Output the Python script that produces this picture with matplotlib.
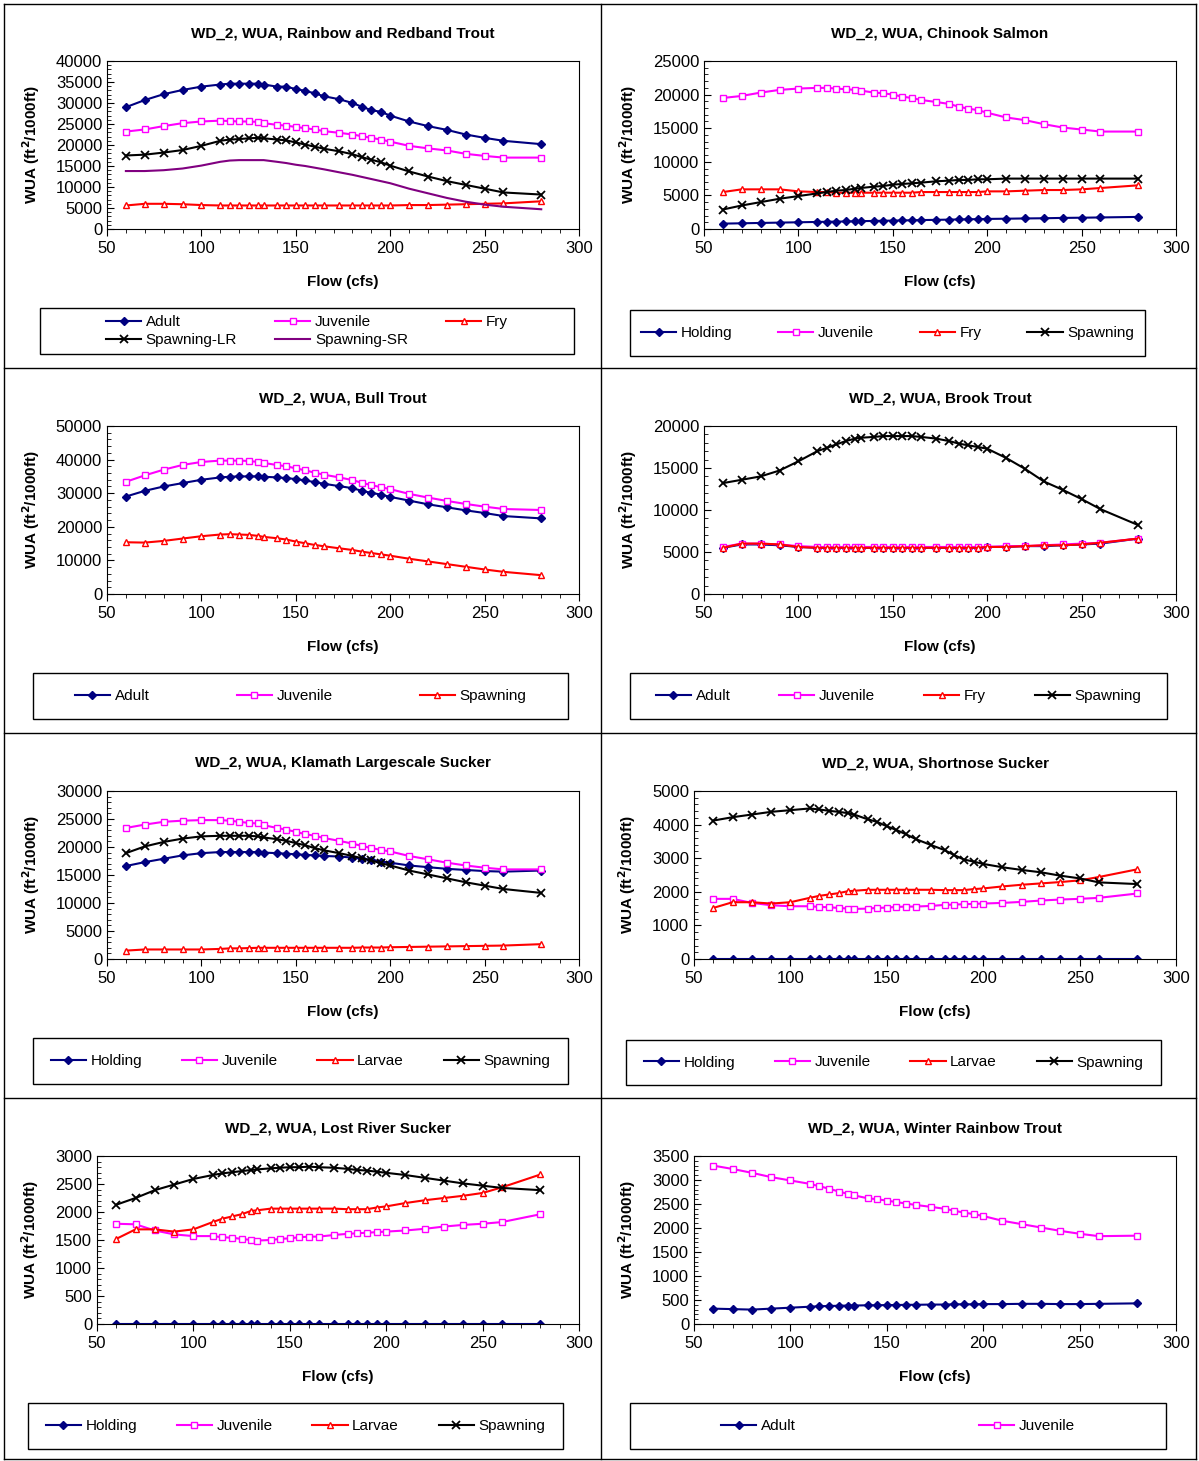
import matplotlib
matplotlib.use("Agg")
import matplotlib.pyplot as plt
from matplotlib.lines import Line2D
from matplotlib.patches import Rectangle

plt.rcParams['font.family'] = ['Liberation Sans', 'DejaVu Sans']

flow = [60, 70, 80, 90, 100, 110, 115, 120, 125, 130, 133, 140, 145, 150, 155,
        160, 165, 173, 180, 185, 190, 195, 200, 210, 220, 230, 240, 250, 260, 280]

# Rainbow and Redband Trout
rb_adult = [29000, 30700, 32100, 33100, 33900, 34400, 34600, 34600, 34600, 34600, 34400, 33900, 33900, 33300, 32900,
            32300, 31600, 30900, 30000, 29100, 28300, 27900, 27000, 25600, 24500, 23600, 22500, 21700, 21000, 20200]
rb_juv = [23200, 23700, 24500, 25200, 25600, 25800, 25700, 25600, 25600, 25500, 25200, 24800, 24600, 24300, 24000,
          23700, 23300, 22900, 22500, 22100, 21700, 21300, 20800, 19800, 19200, 18700, 17900, 17400, 17000, 17000]
rb_fry = [5600, 6000, 6000, 5900, 5700, 5600, 5600, 5600, 5600, 5600, 5600, 5600, 5600, 5600, 5600,
          5600, 5600, 5600, 5600, 5600, 5600, 5600, 5600, 5700, 5700, 5800, 5900, 6000, 6100, 6600]
rb_spawn_lr = [17500, 17700, 18200, 18800, 19800, 21000, 21300, 21400, 21600, 21700, 21600, 21300, 21100, 20600, 20100,
               19600, 19100, 18500, 17800, 17100, 16500, 15900, 15100, 13700, 12500, 11400, 10500, 9600, 8700, 8200]
rb_spawn_sr = [13800, 13800, 14000, 14400, 15100, 16000, 16300, 16400, 16400, 16400, 16400, 16000, 15700, 15300, 15000,
               14600, 14200, 13500, 12900, 12400, 11900, 11400, 10900, 9600, 8500, 7400, 6500, 5800, 5300, 4700]

# Chinook Salmon
ch_hold = [800, 850, 900, 950, 1000, 1050, 1080, 1100, 1120, 1150, 1170, 1200, 1230, 1250, 1280,
           1300, 1330, 1360, 1400, 1420, 1450, 1470, 1500, 1530, 1570, 1600, 1650, 1680, 1720, 1800]
ch_juv = [19500, 19800, 20300, 20700, 20900, 21000, 21000, 20900, 20800, 20700, 20600, 20300, 20200, 20000, 19700,
          19500, 19200, 18900, 18600, 18200, 17900, 17700, 17300, 16600, 16200, 15600, 15100, 14800, 14500, 14500]
ch_fry = [5500, 5900, 5900, 5900, 5600, 5500, 5500, 5400, 5400, 5400, 5400, 5400, 5400, 5400, 5400,
          5400, 5500, 5500, 5500, 5500, 5500, 5500, 5600, 5600, 5700, 5800, 5800, 5900, 6100, 6500]
ch_spawn = [2900, 3500, 4000, 4500, 4900, 5300, 5500, 5700, 5800, 6000, 6100, 6300, 6400, 6600, 6700,
            6800, 6900, 7100, 7200, 7300, 7300, 7400, 7400, 7500, 7500, 7500, 7500, 7500, 7500, 7500]

# Bull Trout
bt_adult = [29000, 30700, 32000, 33000, 34000, 34700, 34900, 35000, 35000, 35000, 34900, 34700, 34500, 34200, 33800,
            33300, 32800, 32100, 31500, 30700, 30100, 29600, 28900, 27800, 26700, 25800, 24900, 24100, 23200, 22500]
bt_juv = [33400, 35300, 37000, 38400, 39300, 39700, 39700, 39700, 39600, 39300, 39000, 38400, 38000, 37400, 36800,
          36100, 35500, 34700, 33900, 33100, 32400, 31800, 31200, 29800, 28700, 27700, 26800, 26000, 25300, 25000]
bt_spawn = [15400, 15300, 15800, 16500, 17200, 17700, 17800, 17700, 17600, 17300, 17000, 16600, 16200, 15600, 15100,
            14600, 14200, 13600, 13100, 12600, 12200, 11800, 11400, 10500, 9700, 8900, 8100, 7300, 6600, 5600]

# Brook Trout
bk_adult = [5500, 5900, 5900, 5800, 5600, 5500, 5500, 5500, 5500, 5500, 5500, 5500, 5500, 5500, 5500,
            5500, 5500, 5500, 5500, 5500, 5500, 5500, 5600, 5600, 5700, 5700, 5800, 5900, 6000, 6600]
bk_juv = [5600, 6000, 6000, 5900, 5700, 5600, 5600, 5600, 5600, 5600, 5600, 5600, 5600, 5600, 5600,
          5600, 5600, 5600, 5600, 5600, 5600, 5600, 5600, 5700, 5700, 5800, 5900, 6000, 6100, 6600]
bk_fry = [5500, 6000, 6000, 5900, 5600, 5500, 5500, 5500, 5500, 5500, 5500, 5500, 5500, 5500, 5500,
          5500, 5500, 5500, 5500, 5500, 5500, 5500, 5600, 5600, 5700, 5800, 5800, 5900, 6100, 6600]
bk_spawn = [13200, 13600, 14000, 14700, 15800, 17000, 17400, 17800, 18200, 18500, 18600, 18700, 18800, 18800, 18800,
            18800, 18700, 18500, 18200, 17900, 17700, 17500, 17300, 16200, 14900, 13400, 12400, 11300, 10100, 8200]

# Klamath Largescale Sucker
kl_hold = [16600, 17300, 17900, 18500, 18900, 19100, 19100, 19100, 19100, 19100, 19000, 18900, 18800, 18700, 18600,
           18500, 18400, 18300, 18100, 17900, 17700, 17400, 17200, 16700, 16400, 16100, 15900, 15700, 15600, 15800]
kl_juv = [23400, 24000, 24500, 24700, 24800, 24800, 24700, 24500, 24300, 24200, 23900, 23400, 23100, 22700, 22300,
          22000, 21600, 21100, 20600, 20200, 19800, 19500, 19200, 18400, 17800, 17200, 16700, 16300, 16000, 16000]
kl_larv = [1500, 1700, 1700, 1700, 1700, 1800, 1900, 1900, 1950, 2000, 2000, 2000, 2000, 2000, 2000,
           2000, 2000, 2000, 2000, 2050, 2050, 2050, 2100, 2150, 2200, 2250, 2300, 2350, 2400, 2650]
kl_spawn = [18900, 20100, 20900, 21500, 21900, 22000, 22000, 22000, 22000, 21900, 21700, 21400, 21100, 20700, 20300,
            19800, 19400, 18900, 18400, 18000, 17600, 17100, 16700, 15800, 15100, 14400, 13700, 13100, 12500, 11800]

# Shortnose Sucker
sn_hold = [0] * 30
sn_juv = [1790, 1790, 1670, 1600, 1570, 1570, 1550, 1540, 1520, 1500, 1490, 1500, 1520, 1530, 1550,
          1560, 1560, 1580, 1610, 1620, 1630, 1640, 1650, 1670, 1700, 1740, 1770, 1790, 1820, 1950]
sn_larv = [1520, 1690, 1690, 1650, 1690, 1820, 1880, 1920, 1960, 2020, 2030, 2060, 2060, 2060, 2060,
           2060, 2060, 2060, 2050, 2050, 2050, 2080, 2100, 2160, 2210, 2250, 2290, 2340, 2440, 2670]
sn_spawn = [4120, 4220, 4300, 4380, 4430, 4480, 4450, 4410, 4380, 4340, 4300, 4160, 4080, 3950, 3840,
            3710, 3570, 3390, 3240, 3090, 2960, 2900, 2830, 2730, 2650, 2580, 2480, 2400, 2280, 2230]

# Lost River Sucker
lr_hold = [0] * 30
lr_juv = [1790, 1780, 1670, 1600, 1570, 1570, 1550, 1540, 1520, 1500, 1490, 1500, 1520, 1530, 1550,
          1560, 1560, 1590, 1610, 1620, 1630, 1640, 1650, 1670, 1700, 1740, 1770, 1790, 1820, 1960]
lr_larv = [1520, 1690, 1690, 1650, 1690, 1820, 1880, 1920, 1960, 2020, 2030, 2060, 2060, 2060, 2060,
           2060, 2060, 2060, 2050, 2050, 2050, 2080, 2100, 2160, 2210, 2250, 2290, 2340, 2440, 2670]
lr_spawn = [2130, 2250, 2390, 2490, 2590, 2660, 2690, 2710, 2730, 2750, 2760, 2780, 2790, 2800, 2800,
            2810, 2800, 2790, 2770, 2750, 2740, 2720, 2700, 2660, 2610, 2560, 2510, 2470, 2430, 2390]

# Winter Rainbow Trout
wr_adult = [320, 310, 300, 320, 340, 360, 370, 375, 380, 385, 385, 390, 390, 395, 395,
            400, 400, 405, 405, 410, 410, 410, 415, 415, 420, 420, 415, 415, 420, 430]
wr_juv = [3300, 3230, 3150, 3060, 2990, 2920, 2870, 2820, 2760, 2710, 2680, 2620, 2600, 2570, 2540,
          2510, 2480, 2440, 2400, 2360, 2320, 2290, 2250, 2150, 2080, 2010, 1940, 1880, 1830, 1840]

NAVY = dict(color='#000080', marker='D', ms=4, mfc='#000080', mec='#000080')
MAG = dict(color='#FF00FF', marker='s', ms=5, mfc='white', mec='#FF00FF')
RED = dict(color='#FF0000', marker='^', ms=5, mfc='white', mec='#FF0000')
BLK = dict(color='black', marker='x', ms=6, mec='black', mew=1.3)
PUR = dict(color='#800080', marker='None')

W, H = 1199, 1461
fig = plt.figure(figsize=(W / 100, H / 100), dpi=100)


def px_ax(l, t, r, b):
    return fig.add_axes([l / W, 1 - b / H, (r - l) / W, (b - t) / H])


def panel(l, r, row, title, ymax, ystep, series, leg, ncol, colsp, order=None):
    t = 61 + 365 * row
    b = 229 + 365 * row
    ax = px_ax(l, t, r, b)
    for lab, y, st in series:
        ax.plot(flow, y, label=lab, lw=1.5, **st)
    ax.set_xlim(50, 300)
    ax.set_ylim(0, ymax)
    ax.set_xticks(range(50, 301, 50))
    ax.set_yticks(range(0, ymax + 1, ystep))
    ax.set_xticks(range(50, 301, 10), minor=True)
    ax.set_yticks(range(0, ymax + 1, ystep // 5), minor=True)
    ax.tick_params(labelsize=12, direction='in', length=5)
    ax.tick_params(which='minor', direction='in', length=3)
    ax.tick_params(axis='x', direction='out')
    ax.tick_params(axis='x', which='minor', direction='out')
    ax.set_title(title, fontsize=11, fontweight='bold', pad=17)
    ax.set_xlabel('Flow (cfs)', fontsize=11, fontweight='bold', labelpad=14)
    ax.set_ylabel('WUA (ft$^\\mathbf{2}$/1000ft)', fontsize=11, fontweight='bold', labelpad=10)
    x0, y0, x1, y1 = leg
    fig.add_artist(Rectangle((x0 / W, 1 - y1 / H), (x1 - x0) / W, (y1 - y0) / H,
                             transform=fig.transFigure, fill=False, ec='black', lw=1))
    h, lbl = ax.get_legend_handles_labels()
    if order:
        h = [h[i] for i in order]
        lbl = [lbl[i] for i in order]
    ax.legend(h, lbl, loc='center', bbox_to_anchor=((x0 + x1) / 2 / W, 1 - (y0 + y1) / 2 / H),
              bbox_transform=fig.transFigure, ncol=ncol, fontsize=11, frameon=False,
              handlelength=2.3, handletextpad=0.3, columnspacing=colsp, labelspacing=0.25,
              borderaxespad=0)
    return ax


panel(107, 579, 0, 'WD_2, WUA, Rainbow and Redband Trout', 40000, 5000,
      [('Adult', rb_adult, NAVY), ('Juvenile', rb_juv, MAG), ('Fry', rb_fry, RED),
       ('Spawning-LR', rb_spawn_lr, BLK), ('Spawning-SR', rb_spawn_sr, PUR)],
      (40, 308, 574, 354), 3, 2.5, order=[0, 3, 1, 4, 2])
panel(704, 1176, 0, 'WD_2, WUA, Chinook Salmon', 25000, 5000,
      [('Holding', ch_hold, NAVY), ('Juvenile', ch_juv, MAG), ('Fry', ch_fry, RED),
       ('Spawning', ch_spawn, BLK)],
      (630, 310, 1145, 356), 4, 3.0)
panel(107, 579, 1, 'WD_2, WUA, Bull Trout', 50000, 10000,
      [('Adult', bt_adult, NAVY), ('Juvenile', bt_juv, MAG), ('Spawning', bt_spawn, RED)],
      (33, 673, 568, 719), 3, 5.7)
panel(704, 1176, 1, 'WD_2, WUA, Brook Trout', 20000, 5000,
      [('Adult', bk_adult, NAVY), ('Juvenile', bk_juv, MAG), ('Fry', bk_fry, RED),
       ('Spawning', bk_spawn, BLK)],
      (630, 673, 1167, 719), 4, 3.2)
panel(107, 579, 2, 'WD_2, WUA, Klamath Largescale Sucker', 30000, 5000,
      [('Holding', kl_hold, NAVY), ('Juvenile', kl_juv, MAG), ('Larvae', kl_larv, RED),
       ('Spawning', kl_spawn, BLK)],
      (33, 1038, 568, 1084), 4, 2.6)
panel(694, 1176, 2, 'WD_2, WUA, Shortnose Sucker', 5000, 1000,
      [('Holding', sn_hold, NAVY), ('Juvenile', sn_juv, MAG), ('Larvae', sn_larv, RED),
       ('Spawning', sn_spawn, BLK)],
      (626, 1040, 1161, 1085), 4, 2.6)
panel(97, 579, 3, 'WD_2, WUA, Lost River Sucker', 3000, 500,
      [('Holding', lr_hold, NAVY), ('Juvenile', lr_juv, MAG), ('Larvae', lr_larv, RED),
       ('Spawning', lr_spawn, BLK)],
      (28, 1403, 563, 1449), 4, 2.6)
panel(694, 1176, 3, 'WD_2, WUA, Winter Rainbow Trout', 3500, 500,
      [('Adult', wr_adult, NAVY), ('Juvenile', wr_juv, MAG)],
      (630, 1403, 1166, 1449), 2, 12.0)

# cell borders
for xs, ys in [([4, 1196], [1 - 4 / H] * 2), ([4, 1196], [1 - 1459 / H] * 2),
               ([4, 4], [1 - 4 / H, 1 - 1459 / H]), ([1196, 1196], [1 - 4 / H, 1 - 1459 / H]),
               ([601, 601], [1 - 4 / H, 1 - 1459 / H])]:
    fig.add_artist(Line2D([x / W for x in xs], ys, color='black', lw=1))
for yy in [368, 733, 1098]:
    fig.add_artist(Line2D([4 / W, 1196 / W], [1 - yy / H] * 2, color='black', lw=1))

fig.savefig('out.png', dpi=100)
